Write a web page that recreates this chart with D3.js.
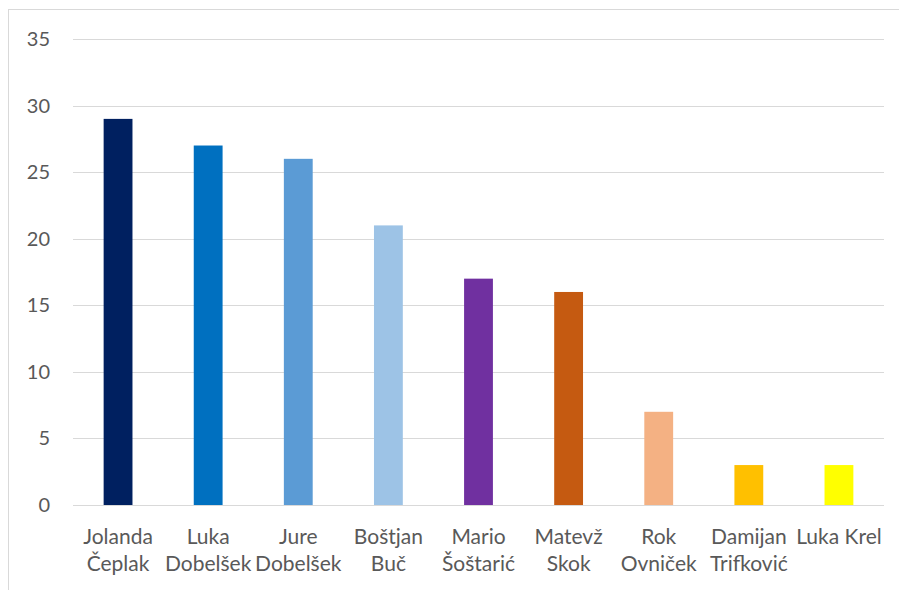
<!DOCTYPE html>
<html><head><meta charset="utf-8">
<script src="https://cdn.jsdelivr.net/npm/d3@7"></script>
<style>body{margin:0;background:#fff}svg{display:block}</style>
</head><body>
<script>
const categories = [["Jolanda","Čeplak"],["Luka","Dobelšek"],["Jure","Dobelšek"],["Boštjan","Buč"],["Mario","Šoštarić"],["Matevž","Skok"],["Rok","Ovniček"],["Damijan","Trifković"],["Luka Krel"]];
const values = [29,27,26,21,17,16,7,3,3];
const colors = ["#002060","#0070C0","#5B9BD5","#9DC3E6","#7030A0","#C55A11","#F4B183","#FFC000","#FFFF00"];
const yTicks = [0,5,10,15,20,25,30,35];

(function(){
const W=899,H=590;
const svg=d3.select("body").append("svg").attr("width",W).attr("height",H);
svg.append("rect").attr("x",8.5).attr("y",9.5).attr("width",W).attr("height",H).attr("fill","#fff").attr("stroke","#d9d9d9").attr("stroke-width",1);

const mLeft=73,mRight=884,mTop=39,mBottom=505;
const x=d3.scaleBand().domain(d3.range(values.length)).range([mLeft,mRight]).paddingInner(0.68).paddingOuter(0.34);
const y=d3.scaleLinear().domain([0,35]).range([mBottom,mTop]);
const font="Lato, 'Open Sans', sans-serif";

svg.append("g").selectAll("line").data(yTicks).join("line")
 .attr("x1",mLeft).attr("x2",mRight).attr("y1",d=>Math.round(y(d))+0.5).attr("y2",d=>Math.round(y(d))+0.5)
 .attr("stroke","#d9d9d9").attr("stroke-width",1);
svg.append("g").selectAll("text").data(yTicks).join("text")
 .attr("x",50).attr("y",d=>y(d)).attr("dy","0.35em").attr("text-anchor","end")
 .attr("font-family",font).attr("font-size",20).attr("fill","#595959").text(d=>d);

svg.append("g").selectAll("rect").data(values).join("rect")
 .attr("x",(d,i)=>x(i)).attr("width",x.bandwidth()).attr("y",d=>y(d)).attr("height",d=>y(0)-y(d))
 .attr("fill",(d,i)=>colors[i]);

const lab=svg.append("g").selectAll("text").data(categories).join("text")
 .attr("text-anchor","middle").attr("font-family",font).attr("font-size",21).attr("fill","#595959")
 .attr("transform",(d,i)=>`translate(${x(i)+x.bandwidth()/2},0)`);
lab.selectAll("tspan").data(d=>d).join("tspan").attr("x",0).attr("y",(d,j)=>544+j*27).text(d=>d);
})();
</script>
</body></html>
